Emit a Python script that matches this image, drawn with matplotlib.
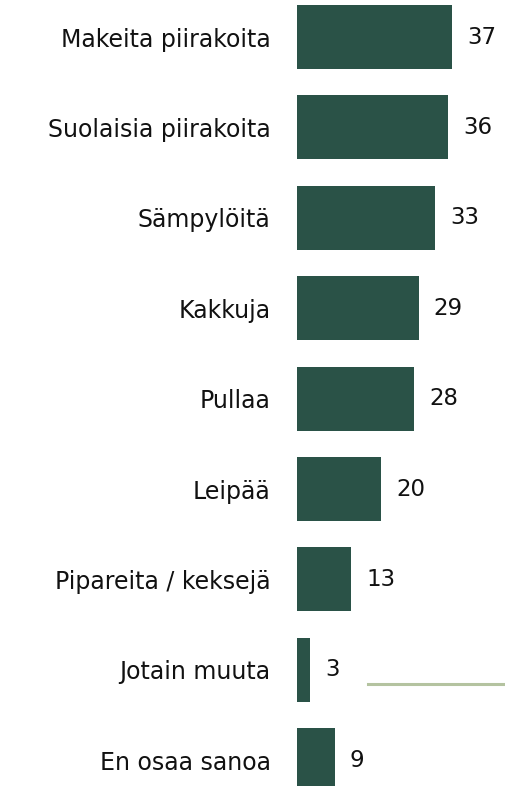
"""
Horizontal bar chart of baked goods (Finnish survey shares).
"""
import matplotlib
matplotlib.use("Agg")
import matplotlib.pyplot as plt
from matplotlib.lines import Line2D

categories = [
    "Makeita piirakoita",
    "Suolaisia piirakoita",
    "Sämpylöitä",
    "Kakkuja",
    "Pullaa",
    "Leipää",
    "Pipareita / keksejä",
    "Jotain muuta",
    "En osaa sanoa",
]
values = [37, 36, 33, 29, 28, 20, 13, 3, 9]

BAR_COLOR = "#2a5247"
LINE_COLOR = "#b4c3a0"

W, H = 505, 786
fig = plt.figure(figsize=(W / 100, H / 100), dpi=100)
fig.patch.set_facecolor("white")

# axes: value 0 sits at x=297 px, ~4.19 px per unit; bars 90.4 px apart
x0, px_per_unit = 297, 4.19
ax = fig.add_axes([x0 / W, 0, (W - x0) / W, 1])
ax.set_xlim(0, (W - x0) / px_per_unit)
pitch, first = 90.4, 37
ax.set_ylim((H - first) / pitch, -first / pitch)

pos = list(range(len(categories)))
bars = ax.barh(pos, values, height=0.71, color=BAR_COLOR)
ax.bar_label(bars, labels=[str(v) for v in values], padding=11,
             fontsize=16.5, color="#111111")

ax.set_yticks(pos)
ax.set_yticklabels(categories, fontsize=17, color="#111111")
ax.tick_params(axis="y", length=0, pad=19)
ax.set_xticks([])
for s in ax.spines.values():
    s.set_visible(False)
ax.patch.set_alpha(0)

# stray legend-style rule at the bottom right
fig.add_artist(Line2D([368 / W, 1.0], [1 - 684.3 / H, 1 - 684.3 / H],
                      color=LINE_COLOR, linewidth=2.2))

fig.savefig("out.png", dpi=100)
